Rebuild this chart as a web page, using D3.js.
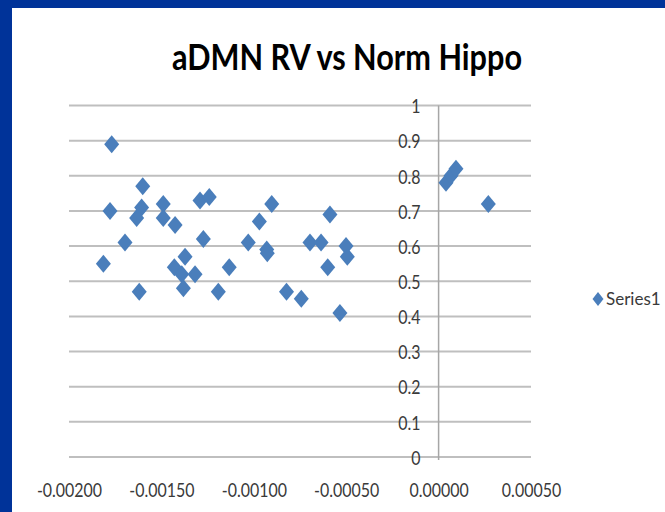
<!DOCTYPE html>
<html>
<head>
<meta charset="utf-8">
<script src="https://cdn.jsdelivr.net/npm/d3@7/dist/d3.min.js"></script>
<style>
  html, body { margin: 0; padding: 0; background: #fff; }
  svg { display: block; }
  text { font-family: Lato, "Open Sans", sans-serif; }
</style>
</head>
<body>
<svg id="chart" width="665" height="512"></svg>
<script>
const title = "aDMN RV vs Norm Hippo";
const seriesName = "Series1";
const xValues = [-0.001769, -0.001601, -0.001778, -0.001607, -0.001634, -0.00149, -0.00149, -0.001426,
  -0.001697, -0.001814, -0.00162, -0.00143, -0.001372, -0.00139, -0.001381, -0.001318,
  -0.001291, -0.001241, -0.001273, -0.001133, -0.001192, -0.00103, -0.00097, -0.000903,
  -0.00093, -0.000927, -0.000823, -0.000743, -0.000696, -0.000636, -0.000588, -0.0006,
  -0.000501, -0.000494, -0.000534, 0.00004, 0.000067, 0.000094, 0.000269];
const yValues = [0.89, 0.77, 0.70, 0.71, 0.68, 0.72, 0.68, 0.66,
  0.61, 0.55, 0.47, 0.54, 0.57, 0.52, 0.48, 0.52,
  0.73, 0.74, 0.62, 0.54, 0.47, 0.61, 0.67, 0.72,
  0.59, 0.58, 0.47, 0.45, 0.61, 0.61, 0.69, 0.54,
  0.60, 0.57, 0.41, 0.78, 0.80, 0.82, 0.72];
const xTicks = [-0.002, -0.0015, -0.001, -0.0005, 0, 0.0005];
const yTicks = [0, 0.1, 0.2, 0.3, 0.4, 0.5, 0.6, 0.7, 0.8, 0.9, 1];

const svg = d3.select("#chart");
// frame
svg.append("rect").attr("x", 0).attr("y", 0).attr("width", 665).attr("height", 512).attr("fill", "#003399");
svg.append("rect").attr("x", 12).attr("y", 8).attr("width", 653).attr("height", 504).attr("fill", "#ffffff");

const x = d3.scaleLinear().domain([-0.002, 0.0005]).range([69, 531]);
const y = d3.scaleLinear().domain([0, 1]).range([457, 105.5]);

// title
svg.append("text").attr("x", 347).attr("y", 70).attr("text-anchor", "middle")
  .attr("font-size", 37).attr("font-weight", "bold").attr("fill", "#000")
  .attr("textLength", 350).attr("lengthAdjust", "spacingAndGlyphs").text(title);

// gridlines
svg.append("g").selectAll("line").data(yTicks).join("line")
  .attr("x1", x(-0.002)).attr("x2", x(0.0005))
  .attr("y1", d => y(d)).attr("y2", d => y(d))
  .attr("stroke", "#bfbfbf").attr("stroke-width", 2);

// vertical axis line at x = 0
svg.append("line").attr("x1", x(0)).attr("x2", x(0)).attr("y1", y(1)).attr("y2", y(0) + 3)
  .attr("stroke", "#a6a6a6").attr("stroke-width", 1.5);

const sx = 0.84;
// y axis labels (left of y-axis)
const yAxis = d3.axisLeft(y).tickValues(yTicks).tickSize(0).tickPadding(0)
  .tickFormat(d => String(+d.toFixed(1)));
const gy = svg.append("g").attr("transform", `translate(${x(0) - 18},0)`).call(yAxis);
gy.select(".domain").remove();
gy.selectAll("text").attr("font-size", 19).attr("fill", "#3a3a3a")
  .attr("font-family", "Lato, sans-serif").attr("dy", "0.38em")
  .attr("transform", `scale(${sx},1)`);

// x axis labels (bottom)
const fmt = d3.format(".5f");
const xAxis = d3.axisBottom(x).tickValues(xTicks).tickSize(0).tickPadding(0)
  .tickFormat(d => fmt(d).replace("\u2212", "-"));
const gx = svg.append("g").attr("transform", `translate(0,${y(0) + 26})`).call(xAxis);
gx.select(".domain").remove();
gx.selectAll("text").attr("font-size", 19).attr("fill", "#3a3a3a")
  .attr("font-family", "Lato, sans-serif").attr("dy", "0.71em")
  .attr("transform", `scale(${sx},1)`);

// points
const pts = xValues.map((v, i) => ({ x: v, y: yValues[i] }));
const diamond = (w, h) => `M0,${-h/2}L${w/2},0L0,${h/2}L${-w/2},0Z`;
svg.append("g").selectAll("path").data(pts).join("path")
  .attr("transform", d => `translate(${x(d.x)},${y(d.y)})`)
  .attr("d", diamond(15, 18))
  .attr("fill", "#4a7ebb");

// legend
const lg = svg.append("g").attr("transform", "translate(598,299)");
lg.append("path").attr("d", diamond(11, 14)).attr("fill", "#4a7ebb");
lg.append("text").attr("x", 8).attr("y", 0).attr("dy", "0.36em").attr("font-size", 17)
  .attr("fill", "#3a3a3a").text(seriesName);
</script>
</body>
</html>
